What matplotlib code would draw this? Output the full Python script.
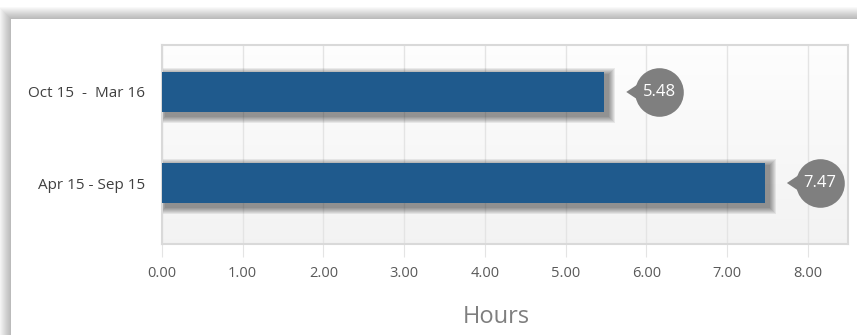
import numpy as np
import matplotlib
matplotlib.use("Agg")
import matplotlib.pyplot as plt
from matplotlib.patches import Rectangle, Polygon
from matplotlib.transforms import offset_copy

plt.rcParams['font.family'] = ['Open Sans', 'DejaVu Sans']

# data
periods = ["Apr 15 - Sep 15", "Oct 15  -  Mar 16"]
hours = [7.47, 5.48]
value_labels = ["7.47", "5.48"]
xticks = [0, 1, 2, 3, 4, 5, 6, 7, 8]

W, H = 857, 335
fig = plt.figure(figsize=(W / 100, H / 100), dpi=100)
fig.patch.set_facecolor('white')

# card with soft shadow on top/left
cx0, cy0 = 11, 19
for i in range(12, 0, -1):
    fig.patches.append(Rectangle(((cx0 - i) / W, 0), 1 - (cx0 - i) / W, (H - cy0 + i) / H,
                                 transform=fig.transFigure, facecolor='black',
                                 alpha=0.025, edgecolor='none', zorder=-3))
fig.patches.append(Rectangle((cx0 / W, 0), 1 - cx0 / W, (H - cy0) / H, transform=fig.transFigure,
                             facecolor='white', edgecolor='none', zorder=-2))

ax_l, ax_r, ax_t, ax_b = 162, 848, 45, 244
XMAX = 8.5
ax = fig.add_axes([ax_l / W, (H - ax_b) / H, (ax_r - ax_l) / W, (ax_b - ax_t) / H])
ax.set_xlim(0, XMAX)
ax.set_ylim(-0.67, 1.516)
ax.set_autoscale_on(False)

# background gradient
n = 40
for k in range(n):
    g = 0.95 + 0.042 * k / (n - 1)
    ax.add_patch(Rectangle((0, k / n), 1, 1 / n + 0.002, transform=ax.transAxes,
                           facecolor=(g, g, g), edgecolor='none', zorder=0))

ypos = np.arange(len(periods))
bar_h = 0.44
inv = ax.transData.inverted()

# bar shadows
for y, v in zip(ypos, hours):
    p0 = ax.transData.transform((0, y - bar_h / 2))
    p1 = ax.transData.transform((v, y + bar_h / 2))
    for e in range(7, 0, -1):
        a = inv.transform((p0[0] + 4 - e, p0[1] - 4 - e))
        b = inv.transform((p1[0] + 4 + e, p1[1] - 3 + e))
        ax.add_patch(Rectangle(a, b[0] - a[0], b[1] - a[1], facecolor='black',
                               alpha=0.07, edgecolor='none', zorder=2))

ax.barh(ypos, hours, height=bar_h, color='#1f5a8d', zorder=3)

# callouts (circle + pointer)
for y, v, lab in zip(ypos, hours, value_labels):
    c = ax.transData.transform((v, y)) + np.array([55, 0])
    tri = inv.transform([(c[0] - 33, c[1]), (c[0] - 12, c[1] + 14), (c[0] - 12, c[1] - 14)])
    ax.add_patch(Polygon(tri, closed=True, facecolor='#7f7f7f', edgecolor='none', zorder=4))
    tr = offset_copy(ax.transData, fig=fig, x=55, y=0, units='dots')
    ax.plot([v], [y], marker='o', markersize=35, color='#7f7f7f', markeredgewidth=0,
            transform=tr, zorder=4, clip_on=False)
    ax.text(v, y, lab, transform=tr, ha='center', va='center', color='white',
            fontsize=12, zorder=5)

ax.set_xticks(xticks)
ax.set_xticklabels(["%.2f" % t for t in xticks])
ax.set_yticks(ypos)
ax.set_yticklabels(periods)
ax.set_xlim(0, XMAX)
ax.set_ylim(-0.67, 1.516)
ax.grid(axis='x', color='#e4e4e4', linewidth=1, zorder=1)
ax.set_axisbelow(True)
ax.tick_params(axis='x', length=9, color='#e4e4e4', pad=7, labelsize=10.5, labelcolor='#595959')
ax.tick_params(axis='y', length=0, pad=12, labelsize=11, labelcolor='#404040')
for s in ax.spines.values():
    s.set_color('#d9d9d9')
    s.set_linewidth(1.5)

fig.text(496 / W, 1 - 317 / H, "Hours", ha='center', va='center', fontsize=17, color='#7f7f7f')

fig.savefig("out.png", dpi=100)
